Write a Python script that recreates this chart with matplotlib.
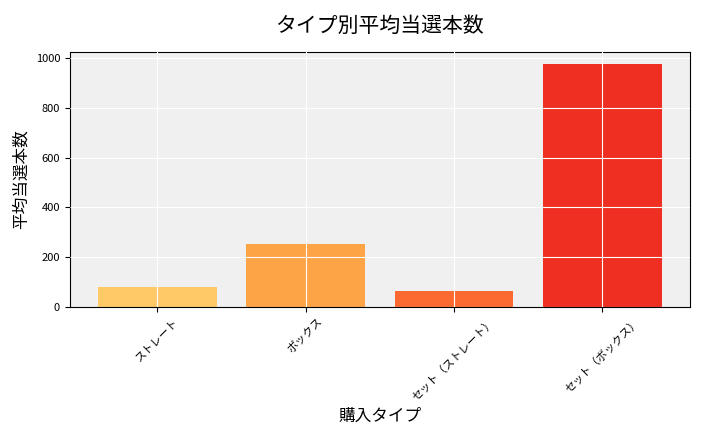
import matplotlib.pyplot as plt

plt.rcParams['font.family'] = ['Noto Sans CJK JP', 'DejaVu Sans']

categories = ['ストレート', 'ボックス', 'セット（ストレート）', 'セット（ボックス）']
values = [80, 253, 65, 975]
colors = ['#fec966', '#fda446', '#fc6a32', '#ef2f22']

fig, ax = plt.subplots(figsize=(7.2, 4.32), dpi=100)
ax.set_facecolor('#f0f0f0')
ax.bar(categories, values, color=colors, width=0.8)
ax.grid(True, color='white', linewidth=0.8)
ax.set_axisbelow(False)
ax.set_ylim(0, 1025)
ax.set_title('タイプ別平均当選本数', fontsize=15, pad=14)
ax.set_xlabel('購入タイプ', fontsize=12)
ax.set_ylabel('平均当選本数', fontsize=12)
ax.tick_params(axis='x', labelrotation=45, labelsize=8)
ax.tick_params(axis='y', labelsize=8)
fig.subplots_adjust(left=0.097, right=0.958, top=0.88, bottom=0.29)
fig.savefig('out.png')
